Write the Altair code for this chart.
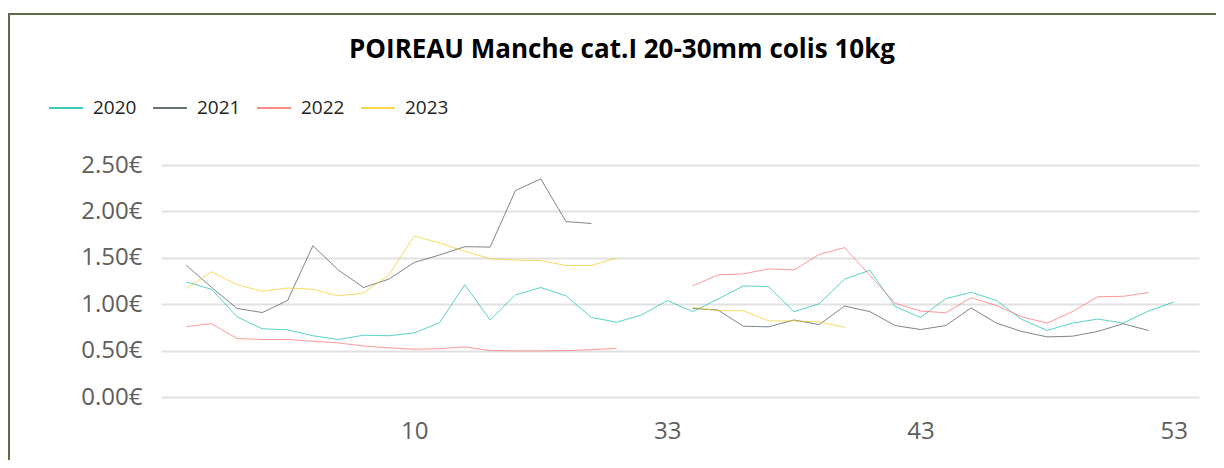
import altair as alt
import pandas as pd

weeks = ["1", "2", "3", "4", "5", "6", "7", "8", "9", "10",
         "11", "12", "13", "14", "15", "16", "17", "18", "19",
         "33", "34", "35", "36", "37", "38", "39", "40", "41", "42",
         "43", "44", "45", "46", "47", "48", "49", "50", "51", "52", "53"]

p2020 = [1.24, 1.16, 0.865, 0.735, 0.724, 0.66, 0.62, 0.666, 0.66, 0.69,
         0.80, 1.21, 0.83, 1.10, 1.18, 1.09, 0.857, 0.806, 0.886,
         1.04, 0.92, 1.056, 1.197, 1.19, 0.92, 1.005, 1.27, 1.366, 0.975,
         0.857, 1.06, 1.128, 1.04, 0.836, 0.717, 0.796, 0.84, 0.796, 0.926, 1.023]

p2021 = [1.42, 1.18, 0.955, 0.91, 1.04, 1.63, 1.37, 1.18, 1.27, 1.45,
         1.53, 1.62, 1.615, 2.225, 2.35, 1.89, 1.87, None, None,
         None, 0.955, 0.937, 0.763, 0.756, 0.83, 0.78, 0.98, 0.92, 0.77,
         0.727, 0.77, 0.96, 0.796, 0.706, 0.648, 0.655, 0.706, 0.79, 0.717, None]

p2022 = [0.76, 0.79, 0.63, 0.62, 0.62, 0.60, 0.583, 0.55, 0.53, 0.515,
         0.52, 0.54, 0.50, 0.497, 0.497, 0.50, 0.51, 0.525, None,
         None, 1.197, 1.316, 1.327, 1.38, 1.37, 1.536, 1.61, 1.31, 1.01,
         0.926, 0.908, 1.07, 0.985, 0.864, 0.796, 0.92, 1.08, 1.085, 1.125, None]

p2023 = [1.17, 1.35, 1.21, 1.14, 1.175, 1.16, 1.09, 1.12, 1.315, 1.735,
         1.66, 1.57, 1.49, 1.475, 1.47, 1.417, 1.417, 1.50, None,
         None, 0.965, 0.93, 0.93, 0.82, 0.82, 0.81, 0.75, None, None,
         None, None, None, None, None, None, None, None, None, None, None]

years = ["2020", "2021", "2022", "2023"]
colors = ["#01B8AA", "#374649", "#FD625E", "#F2C80F"]
shown_labels = ["10", "33", "43", "53"]
y_ticks = [0, 0.5, 1.0, 1.5, 2.0, 2.5]
title_text = "POIREAU Manche cat.I 20-30mm colis 10kg"

rows = []
for yr, series in zip(years, [p2020, p2021, p2022, p2023]):
    for i, (w, v) in enumerate(zip(weeks, series)):
        rows.append({"semaine": w, "semaine_idx": i, "annee": yr, "prix": v})
df = pd.DataFrame(rows)

FONT = "Open Sans"

lines = alt.Chart(df).mark_line(strokeWidth=1, opacity=0.65).encode(
    x=alt.X("semaine:O", sort=weeks,
            scale=alt.Scale(domain=weeks, type="point", padding=1),
            axis=alt.Axis(title=None, ticks=False, domain=False, grid=False,
                          labelAngle=0, labelFontSize=24, labelFont=FONT,
                          labelColor="#605E5C", labelPadding=22,
                          labelOverlap=False,
                          labelExpr="indexof(%s, datum.value) >= 0 ? datum.value : ''" % str(shown_labels))),
    y=alt.Y("prix:Q", scale=alt.Scale(domain=[0, 2.5], nice=False),
            axis=alt.Axis(title=None, ticks=False, domain=False, values=y_ticks,
                          labelFontSize=24, labelFont=FONT, labelColor="#605E5C",
                          labelPadding=19, gridColor="#E1E1E1", gridWidth=2,
                          labelExpr="format(datum.value, '.2f') + '€'")),
    color=alt.Color("annee:N", scale=alt.Scale(domain=years, range=colors),
                    legend=alt.Legend(title=None, orient="none", direction="horizontal",
                                      legendX=-113, legendY=-75, padding=0,
                                      symbolType="stroke", symbolSize=1156,
                                      symbolStrokeWidth=1.5, symbolOpacity=1,
                                      labelFontSize=19, labelFont=FONT,
                                      labelColor="#252423", labelOffset=9,
                                      columnPadding=13)),
    order=alt.Order("semaine_idx:Q"),
)

frame_top = alt.Chart(df).mark_rule(color="#5E6F46", strokeWidth=2, clip=False).encode(
    x=alt.value(-153), x2=alt.value(1060), y=alt.value(-151))
frame_left = alt.Chart(df).mark_rule(color="#5E6F46", strokeWidth=2, clip=False).encode(
    x=alt.value(-152), y=alt.value(-152), y2=alt.value(300))

chart = alt.layer(lines, frame_top, frame_left).properties(
    width=1038, height=232,
    title=alt.Title(title_text, fontSize=26, font=FONT, fontWeight="bold",
                    color="#000000", anchor="middle", dx=-58, offset=-72,
                    baseline="alphabetic"),
    autosize=alt.AutoSizeParams(type="none"),
    padding={"left": 153, "top": 157, "right": 17, "bottom": 63},
).configure_view(stroke=None)

chart.save("out.html", embed_options={"renderer": "svg", "actions": False})
